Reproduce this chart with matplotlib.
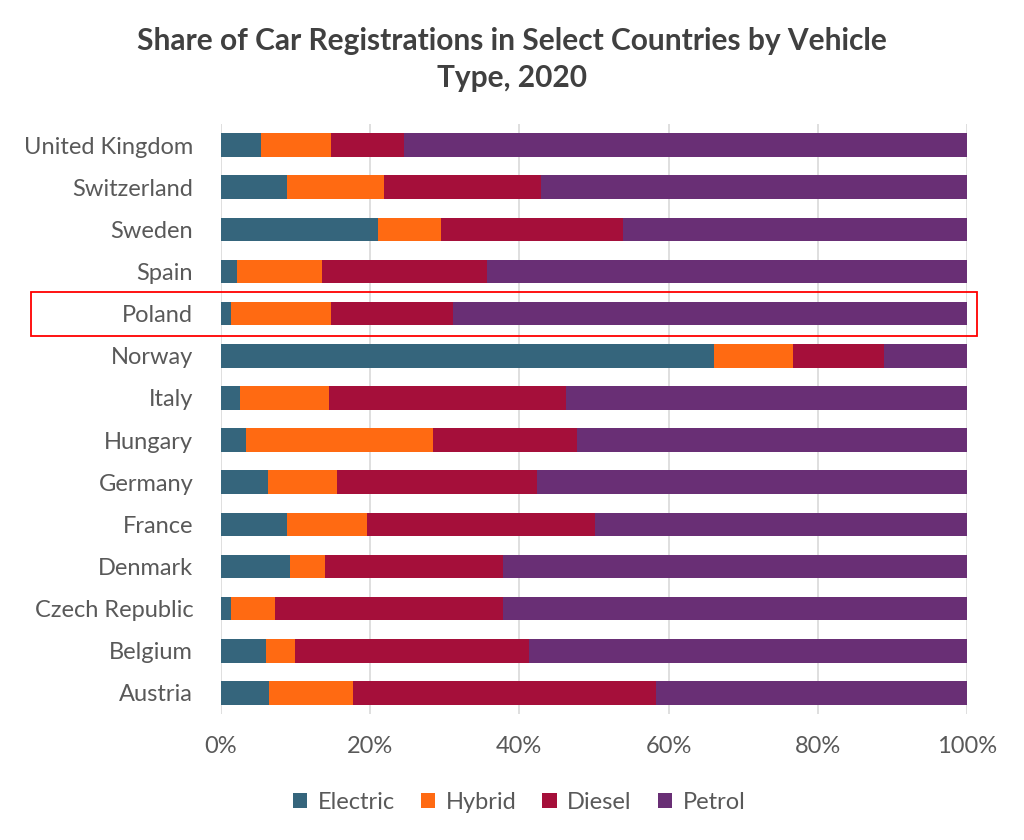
import matplotlib
matplotlib.use("Agg")
import matplotlib.pyplot as plt
from matplotlib.patches import Rectangle
import matplotlib.transforms as mtransforms
from matplotlib.ticker import FuncFormatter
import numpy as np

plt.rcParams['font.family'] = ['Lato', 'DejaVu Sans']

countries = ["Austria", "Belgium", "Czech Republic", "Denmark", "France", "Germany",
             "Hungary", "Italy", "Norway", "Poland", "Spain", "Sweden",
             "Switzerland", "United Kingdom"]
electric = [6.5, 6.0, 1.4, 9.2, 8.8, 6.3, 3.3, 2.5, 66.1, 1.4, 2.1, 21.0, 8.8, 5.3]
hybrid   = [11.2, 3.9, 5.8, 4.7, 10.8, 9.2, 25.1, 12.0, 10.6, 13.4, 11.5, 8.5, 13.1, 9.5]
diesel   = [40.6, 31.4, 30.6, 23.9, 30.6, 26.9, 19.3, 31.8, 12.2, 16.3, 22.1, 24.4, 21.0, 9.7]
petrol   = [100 - e - h - d for e, h, d in zip(electric, hybrid, diesel)]
series_names = ["Electric", "Hybrid", "Diesel", "Petrol"]
colors = ["#35657C", "#FF6A12", "#A50F3A", "#692F75"]
highlight = "Poland"

fig = plt.figure(figsize=(10.24, 8.4), dpi=100)
ax = fig.add_axes([0.2158, 0.15, 0.7285, 0.7024])

y = np.arange(len(countries))
left = np.zeros(len(countries))
for name, vals, c in zip(series_names, [electric, hybrid, diesel, petrol], colors):
    vals = np.array(vals, dtype=float)
    ax.barh(y, vals, left=left, height=0.56, color=c, label=name, zorder=3)
    left += vals

ax.set_xlim(0, 100)
ax.set_ylim(-0.5, len(countries) - 0.5)
ax.set_xticks([0, 20, 40, 60, 80, 100])
ax.xaxis.set_major_formatter(FuncFormatter(lambda v, p: f"{int(v)}%"))
ax.set_yticks(y)
ax.set_yticklabels(countries)
ax.grid(axis='x', color='#D9D9D9', linewidth=1.2, zorder=0)
ax.grid(axis='y', visible=False)
for s in ax.spines.values():
    s.set_visible(False)
ax.tick_params(axis='both', length=0, labelsize=17, colors='#595959')
ax.tick_params(axis='y', pad=20)
ax.tick_params(axis='x', pad=16)

# highlight box around Poland
pi = countries.index(highlight)
trans = mtransforms.blended_transform_factory(fig.transFigure, ax.transData)
rect = Rectangle((31 / 1024, pi - 0.52), (977 - 31) / 1024, 1.04, transform=trans,
                 fill=False, edgecolor='#FF0000', linewidth=1.3, clip_on=False, zorder=5)
fig.patches.append(rect)

fig.text(0.5, 0.968, "Share of Car Registrations in Select Countries by Vehicle\nType, 2020",
         ha='center', va='top', fontsize=21.5, fontweight='bold', color='#404040',
         linespacing=1.38)

handles, labels = ax.get_legend_handles_labels()
fig.legend(handles, labels, loc='center', bbox_to_anchor=(0.507, 0.045), ncol=4,
           frameon=False, fontsize=17, handlelength=0.6, handleheight=0.6,
           handletextpad=0.45, columnspacing=1.1, labelcolor='#595959')

fig.savefig("out.png", dpi=100)
